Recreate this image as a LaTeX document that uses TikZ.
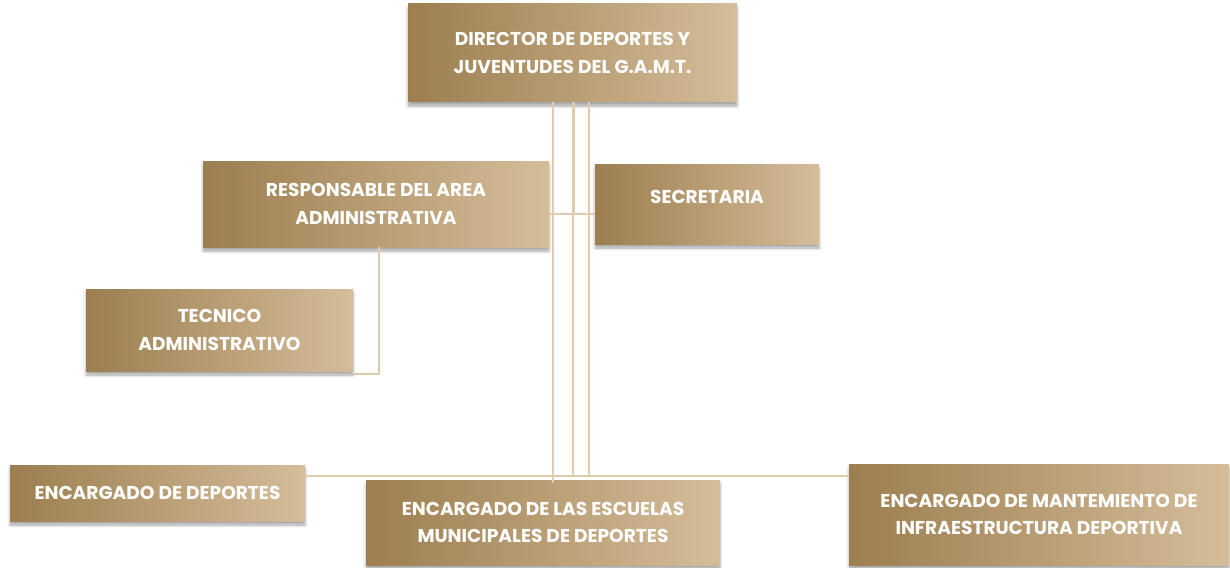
\documentclass[tikz,border=0pt]{standalone}
\usepackage{fontspec}
\setmainfont{Poppins}[BoldFont={Poppins Bold}]
\usetikzlibrary{shadows.blur}

\definecolor{goldDark}{HTML}{9C7E4F}
\definecolor{goldLight}{HTML}{D5BD9A}
\definecolor{linkTan}{HTML}{DFCBAE}

\tikzset{
	orgbox/.style={left color=goldDark, right color=goldLight, draw=none,
		blur shadow={shadow xshift=0pt, shadow yshift=-4pt, shadow opacity=35, shadow blur radius=3pt},
		text=white, font=\bfseries\fontsize{18.6}{27.5}\selectfont, align=center, inner sep=0pt},
	link/.style={draw=linkTan, line width=2pt}
}

\begin{document}
\begin{tikzpicture}[x=1pt, y=-1pt]
	\useasboundingbox (0,0) rectangle (1230,567);
	
	\node[orgbox, minimum width=329pt, minimum height=98pt] (dir) at (572.5,53) {DIRECTOR DE DEPORTES Y\\JUVENTUDES DEL G.A.M.T.};
	\node[orgbox, minimum width=346pt, minimum height=86pt] (resp) at (376,204) {RESPONSABLE DEL AREA\\ADMINISTRATIVA};
	\node[orgbox, minimum width=224pt, minimum height=80pt] (sec) at (707,204) {\raisebox{14pt}{SECRETARIA}};
	\node[orgbox, minimum width=267pt, minimum height=82pt] (tec) at (219.5,330) {TECNICO\\ADMINISTRATIVO};
	\node[orgbox, minimum width=295pt, minimum height=56pt] (dep) at (157.5,493) {ENCARGADO DE DEPORTES};
	\node[orgbox, minimum width=354pt, minimum height=85pt] (esc) at (543,522.5) {ENCARGADO DE LAS ESCUELAS\\MUNICIPALES DE DEPORTES};
	\node[orgbox, minimum width=380pt, minimum height=101pt] (mant) at (1039,514.5) {ENCARGADO DE MANTEMIENTO DE\\INFRAESTRUCTURA DEPORTIVA};
	
	% guide points for the lines
	\coordinate (v1) at (553,0);
	\coordinate (v2) at (573,0);
	\coordinate (v3) at (589,0);
	\coordinate (bus) at (0,476);
	\coordinate (mid) at (0,214);
	\coordinate (t1) at (379,0);
	\coordinate (t2) at (0,374);
	
	\draw[link] (dir.south -| v1) -- ([yshift=-3pt]esc.north -| v1);
	\draw[link, line width=3pt] (dir.south -| v2) -- (mid -| v2);
	\draw[link] (mid -| v2) -- (bus -| v2);
	\draw[link] (dir.south -| v3) -- (bus -| v3);
	\draw[link] (dep.east |- bus) -- (mant.west |- bus);
	\draw[link] (resp.east |- mid) -- (sec.west |- mid);
	\draw[link] (resp.south -| t1) -- (t2 -| t1) -- (t2 -| tec.east);
\end{tikzpicture}
\end{document}
